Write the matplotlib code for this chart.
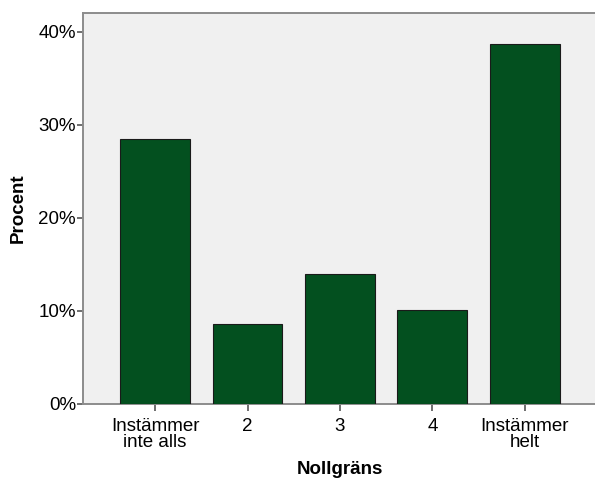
import matplotlib
matplotlib.use('Agg')
import matplotlib.pyplot as plt
from matplotlib.ticker import FuncFormatter

# data
categories = ['Instämmer\ninte alls', '2', '3', '4', 'Instämmer\nhelt']
percent = [28.5, 8.6, 14.0, 10.1, 38.7]

plt.rcParams['font.family'] = ['Liberation Sans', 'DejaVu Sans']

fig = plt.figure(figsize=(5.95, 4.82), dpi=100)
ax = fig.add_axes([83/595, 1-404/482, 1-83/595, (404-13)/482])
ax.set_facecolor('#f0f0f0')

x = range(len(categories))
ax.bar(x, percent, width=0.757, color='#03501f', edgecolor='#1a1a1a', linewidth=0.8, zorder=3)

ax.set_xlim(-0.78, 4.76)
ax.set_ylim(0, 42.04)
ax.set_yticks([0, 10, 20, 30, 40])
ax.yaxis.set_major_formatter(FuncFormatter(lambda v, p: f'{v:.0f}%'))
ax.set_xticks(list(x))
ax.set_xticklabels(categories, fontsize=13.5, linespacing=0.9)
ax.tick_params(axis='y', labelsize=13.5, length=4, width=1.2, color='#555555', pad=1)
ax.tick_params(axis='x', length=5, width=1.2, color='#555555', pad=5)

for s in ['left', 'top', 'bottom']:
    ax.spines[s].set_color('#8c8c8c')
    ax.spines[s].set_linewidth(1.4)
ax.spines['right'].set_visible(False)

ax.set_ylabel('Procent', fontsize=13.5, fontweight='bold')
ax.yaxis.set_label_coords(-(83-27)/512, 0.5)
ax.set_xlabel('Nollgräns', fontsize=13.5, fontweight='bold')
ax.xaxis.set_label_coords((340-83)/512, -(461-404)/391)

fig.savefig('out.png', dpi=100)
